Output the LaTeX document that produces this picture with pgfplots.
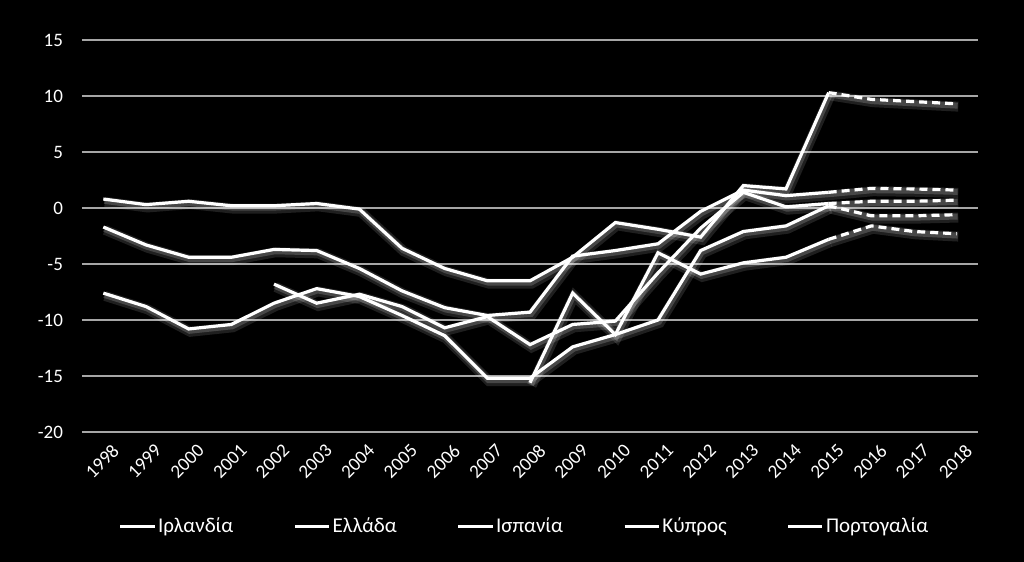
\documentclass[border=0pt]{standalone}
\usepackage{fontspec}
\setmainfont{Carlito}
\usepackage{pgfplots}
\usepackage{pgfplotstable}
\pgfplotsset{compat=1.18}

% current account, % of GDP (solid: actual, dashed: projection)
\pgfplotstableread{
year val
1998 0.8
1999 0.3
2000 0.6
2001 0.2
2002 0.2
2003 0.4
2004 -0.1
2005 -3.6
2006 -5.4
2007 -6.5
2008 -6.5
2009 -4.4
2010 -1.3
2011 -1.9
2012 -2.6
2013 2.0
2014 1.7
2015 10.3
}\ireland
\pgfplotstableread{
year val
2015 10.3
2016 9.7
2017 9.5
2018 9.3
}\irelandP

\pgfplotstableread{
year val
1998 -7.6
1999 -8.8
2000 -10.8
2001 -10.4
2002 -8.5
2003 -7.2
2004 -7.9
2005 -9.6
2006 -11.4
2007 -15.2
2008 -15.2
2009 -12.4
2010 -11.3
2011 -10.0
2012 -3.8
2013 -2.1
2014 -1.6
2015 0.2
}\greece
\pgfplotstableread{
year val
2015 0.2
2016 -0.7
2017 -0.7
2018 -0.6
}\greeceP

\pgfplotstableread{
year val
1998 -1.7
1999 -3.3
2000 -4.4
2001 -4.4
2002 -3.7
2003 -3.8
2004 -5.4
2005 -7.4
2006 -8.9
2007 -9.6
2008 -9.3
2009 -4.3
2010 -3.8
2011 -3.2
2012 -0.3
2013 1.6
2014 1.1
2015 1.4
}\spain
\pgfplotstableread{
year val
2015 1.4
2016 1.75
2017 1.7
2018 1.6
}\spainP

\pgfplotstableread{
year val
2008 -15.6
2009 -7.6
2010 -11.3
2011 -4.0
2012 -5.9
2013 -4.9
2014 -4.4
2015 -2.8
}\cyprus
\pgfplotstableread{
year val
2015 -2.8
2016 -1.6
2017 -2.1
2018 -2.3
}\cyprusP

\pgfplotstableread{
year val
2002 -6.8
2003 -8.5
2004 -7.7
2005 -8.8
2006 -10.7
2007 -9.7
2008 -12.2
2009 -10.4
2010 -10.1
2011 -5.8
2012 -1.8
2013 1.4
2014 0.1
2015 0.4
}\portugal
\pgfplotstableread{
year val
2015 0.4
2016 0.6
2017 0.6
2018 0.7
}\portugalP

\pgfplotsset{
  glow/.style={draw=white, line width=5pt, opacity=0.12, xshift=0.8pt, yshift=-1.4pt, forget plot},
  glowin/.style={draw=white, line width=3pt, opacity=0.18, xshift=0.5pt, yshift=-0.9pt, forget plot},
  serie/.style={draw=white, line width=1.6pt, no marks},
  proj/.style={draw=white, line width=1.6pt, no marks, dash pattern=on 4pt off 2.5pt, forget plot},
}

\begin{document}
\begin{tikzpicture}
\fill[black] (0,0) rectangle (512pt,281pt);
\begin{axis}[
    at={(41pt,65pt)}, anchor=south west,
    scale only axis, width=448pt, height=196pt,
    xmin=1997.5, xmax=2018.5, ymin=-20, ymax=15,
    xtick={1998,...,2018}, ytick={-20,-15,...,15},
    clip=false,
    axis line style={draw=none},
    major tick length=0pt,
    ymajorgrids,
    grid style={draw=gray!70, line width=0.6pt},
    /pgf/number format/assume math mode=true,
    tick label style={font=\fontsize{9.5}{11}\selectfont, text=white},
    x tick label style={/pgf/number format/1000 sep={}, rotate=45, anchor=north east, yshift=-5.5pt, inner sep=1pt},
    y tick label style={anchor=east, xshift=-6pt},
    legend columns=5,
    legend style={at={(0.494,-0.242)}, anchor=center, draw=none, fill=black,
      text=white, font=\fontsize{10.5}{12}\selectfont,
      nodes={inner sep=1pt},
      /tikz/every even column/.append style={column sep=29pt}},
]
\addplot[glow] table {\ireland};
\addplot[glow] table {\greece};
\addplot[glow] table {\spain};
\addplot[glow] table {\cyprus};
\addplot[glow] table {\portugal};
\addplot[glow] table {\irelandP};
\addplot[glow] table {\greeceP};
\addplot[glow] table {\spainP};
\addplot[glow] table {\cyprusP};
\addplot[glow] table {\portugalP};
\addplot[glowin] table {\ireland};
\addplot[glowin] table {\greece};
\addplot[glowin] table {\spain};
\addplot[glowin] table {\cyprus};
\addplot[glowin] table {\portugal};
\addplot[glowin] table {\irelandP};
\addplot[glowin] table {\greeceP};
\addplot[glowin] table {\spainP};
\addplot[glowin] table {\cyprusP};
\addplot[glowin] table {\portugalP};

\addplot[serie] table {\ireland};
\addplot[serie] table {\greece};
\addplot[serie] table {\spain};
\addplot[serie] table {\cyprus};
\addplot[serie] table {\portugal};

\addplot[proj] table {\irelandP};
\addplot[proj] table {\greeceP};
\addplot[proj] table {\spainP};
\addplot[proj] table {\cyprusP};
\addplot[proj] table {\portugalP};

\legend{Ιρλανδία, Ελλάδα, Ισπανία, Κύπρος, Πορτογαλία}
\end{axis}
\pgfresetboundingbox
\path (0,0) rectangle (512pt,281pt);
\end{tikzpicture}
\end{document}
